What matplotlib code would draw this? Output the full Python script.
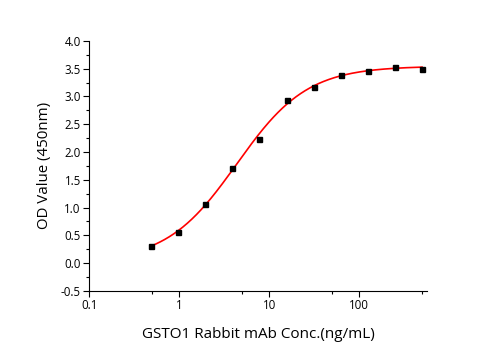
#!/usr/bin/env python3

import matplotlib.pyplot as plt
import numpy as np
from matplotlib.ticker import FixedLocator, NullFormatter

plt.rcParams['font.family'] = ['Open Sans', 'DejaVu Sans']

conc = [0.488, 0.977, 1.95, 3.9, 7.8, 15.6, 31.25, 62.5, 125, 250, 500]
od = [0.31, 0.56, 1.07, 1.71, 2.23, 2.94, 3.17, 3.38, 3.46, 3.53, 3.50]

x_ticks = [0.1, 1, 10, 100]
x_ticklabels = ['0.1', '1', '10', '100']
y_ticks = np.arange(-0.5, 4.01, 0.5)


def fit_4pl(x, y):
    # grid over EC50 and slope; bottom/top by linear least squares
    best = None
    for lc in np.linspace(-0.5, 2.0, 251):
        for b in np.linspace(0.5, 3.0, 251):
            g = 1.0 / (1.0 + (x / 10 ** lc) ** b)
            M = np.column_stack([g, 1 - g])
            coef, *_ = np.linalg.lstsq(M, y, rcond=None)
            err = np.sum((M @ coef - y) ** 2)
            if best is None or err < best[0]:
                best = (err, coef[0], coef[1], 10 ** lc, b)
    return best[1:]


def main() -> None:
    x = np.array(conc)
    y = np.array(od)
    a, d, c, b = fit_4pl(x, y)
    xs = np.logspace(np.log10(x.min()), np.log10(x.max()), 300)
    ys = d + (a - d) / (1 + (xs / c) ** b)

    fig = plt.figure(figsize=(4.95, 3.5), dpi=100)
    ax = fig.add_axes([0.180, 0.169, 0.683, 0.714])
    ax.plot(xs, ys, color='red', lw=1.2, zorder=2)
    ax.plot(x, y, 's', color='black', ms=3.6, zorder=3)

    ax.set_xscale('log')
    ax.set_xlim(0.1, 570)
    ax.set_ylim(-0.5, 4.0)
    ax.xaxis.set_major_locator(FixedLocator(x_ticks))
    ax.set_xticklabels(x_ticklabels)
    ax.xaxis.set_minor_locator(FixedLocator([0.5, 5, 50, 500]))
    ax.xaxis.set_minor_formatter(NullFormatter())
    ax.set_yticks(y_ticks)
    ax.set_yticklabels(['{:.1f}'.format(v) for v in y_ticks])
    ax.yaxis.set_minor_locator(FixedLocator(np.arange(-0.25, 4.0, 0.5)))

    for s in ('top', 'right'):
        ax.spines[s].set_visible(False)
    for s in ('left', 'bottom'):
        ax.spines[s].set_linewidth(0.8)
    ax.tick_params(which='major', direction='out', length=4, width=0.8,
                   labelsize=8.3, pad=2)
    ax.tick_params(which='minor', direction='out', length=2.5, width=0.8)

    ax.set_xlabel('GSTO1 Rabbit mAb Conc.(ng/mL)', fontsize=11, labelpad=11)
    ax.set_ylabel('OD Value (450nm)', fontsize=10.8, labelpad=6)

    fig.savefig('out.png', dpi=100)


if __name__ == '__main__':
    main()
